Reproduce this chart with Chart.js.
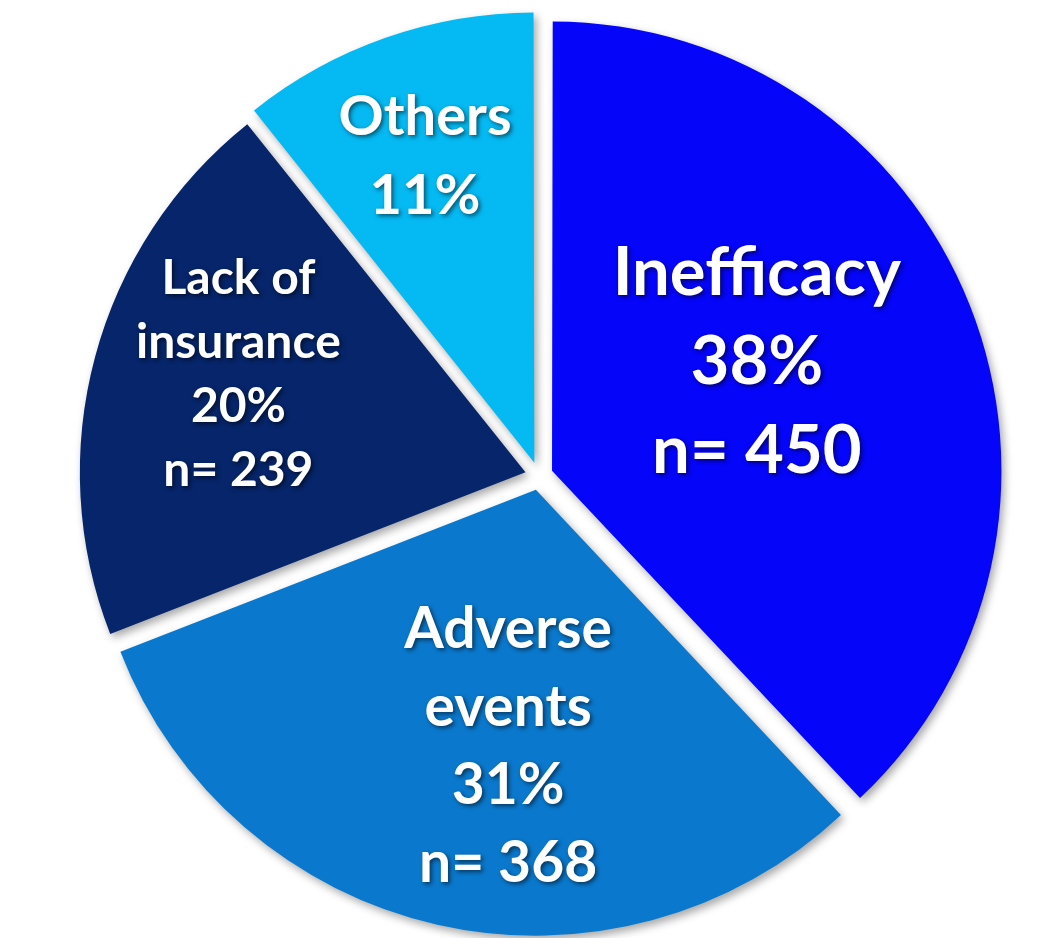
<!DOCTYPE html>
<html>
<head>
<meta charset="utf-8">
<script src="https://cdn.jsdelivr.net/npm/chart.js@4.4.1/dist/chart.umd.min.js"></script>
<style>
  html, body { margin: 0; padding: 0; background: #ffffff; }
  #wrap { width: 1038px; height: 938px; }
</style>
</head>
<body>
<div id="wrap"><canvas id="c" width="1038" height="938"></canvas></div>
<script>
// ---- data ----
const categories = ["Inefficacy", "Adverse events", "Lack of insurance", "Others"];
const counts = [450, 368, 239, 127];
const percentLabels = ["38%", "31%", "20%", "11%"];
const countLabels = ["n= 450", "n= 368", "n= 239", ""];
const labelLines = [["Inefficacy"], ["Adverse", "events"], ["Lack of", "insurance"], ["Others"]];

// ---- styling ----
const colors = ["#0505FA", "#0A78CC", "#06256A", "#05B9F2"];
const labelFont = [67, 57, 48, 56];
const labelLineGap = [89, 78, 64, 79];
// label anchor: angle (deg clockwise from top) and fraction of radius, relative to pie centre
const labelAngle = [62.4, 186.5, 288.7, 340.4];
const labelFrac = [0.55, 0.61, 0.71, 0.76];

const labelPlugin = {
  id: 'sliceLabels',
  beforeDatasetsDraw(chart) {
    const ctx = chart.ctx;
    ctx.save();
    ctx.shadowColor = 'rgba(0,0,0,0.35)';
    ctx.shadowBlur = 8;
    ctx.shadowOffsetX = 3;
    ctx.shadowOffsetY = 4;
  },
  afterDatasetsDraw(chart) {
    const ctx = chart.ctx;
    ctx.restore();
    const meta = chart.getDatasetMeta(0);
    const arc0 = meta.data[0];
    const cx = arc0.x, cy = arc0.y, r = 447;
    ctx.save();
    ctx.textAlign = 'center';
    ctx.textBaseline = 'middle';
    ctx.fillStyle = '#ffffff';
    ctx.shadowColor = 'rgba(0,0,0,0.55)';
    ctx.shadowBlur = 4;
    ctx.shadowOffsetX = 2;
    ctx.shadowOffsetY = 2;
    categories.forEach((cat, i) => {
      const lines = labelLines[i].concat([percentLabels[i]]);
      if (countLabels[i]) lines.push(countLabels[i]);
      const a = labelAngle[i] * Math.PI / 180;
      const x = cx + Math.sin(a) * r * labelFrac[i];
      const y = cy - Math.cos(a) * r * labelFrac[i];
      const gap = labelLineGap[i];
      const y0 = y - gap * (lines.length - 1) / 2;
      ctx.font = 'bold ' + labelFont[i] + 'px Lato, "Open Sans", sans-serif';
      lines.forEach((t, k) => ctx.fillText(t, x, y0 + k * gap));
    });
    ctx.restore();
  }
};

new Chart(document.getElementById('c'), {
  type: 'pie',
  data: {
    labels: categories,
    datasets: [{
      data: counts,
      backgroundColor: colors,
      borderWidth: 0,
      offset: 56,
      hoverOffset: 56
    }]
  },
  options: {
    responsive: false,
    animation: false,
    radius: 445,
    layout: { padding: { left: 40, top: 14, right: 0, bottom: 0 } },
    plugins: { legend: { display: false }, tooltip: { enabled: false } }
  },
  plugins: [labelPlugin]
});
</script>
</body>
</html>
